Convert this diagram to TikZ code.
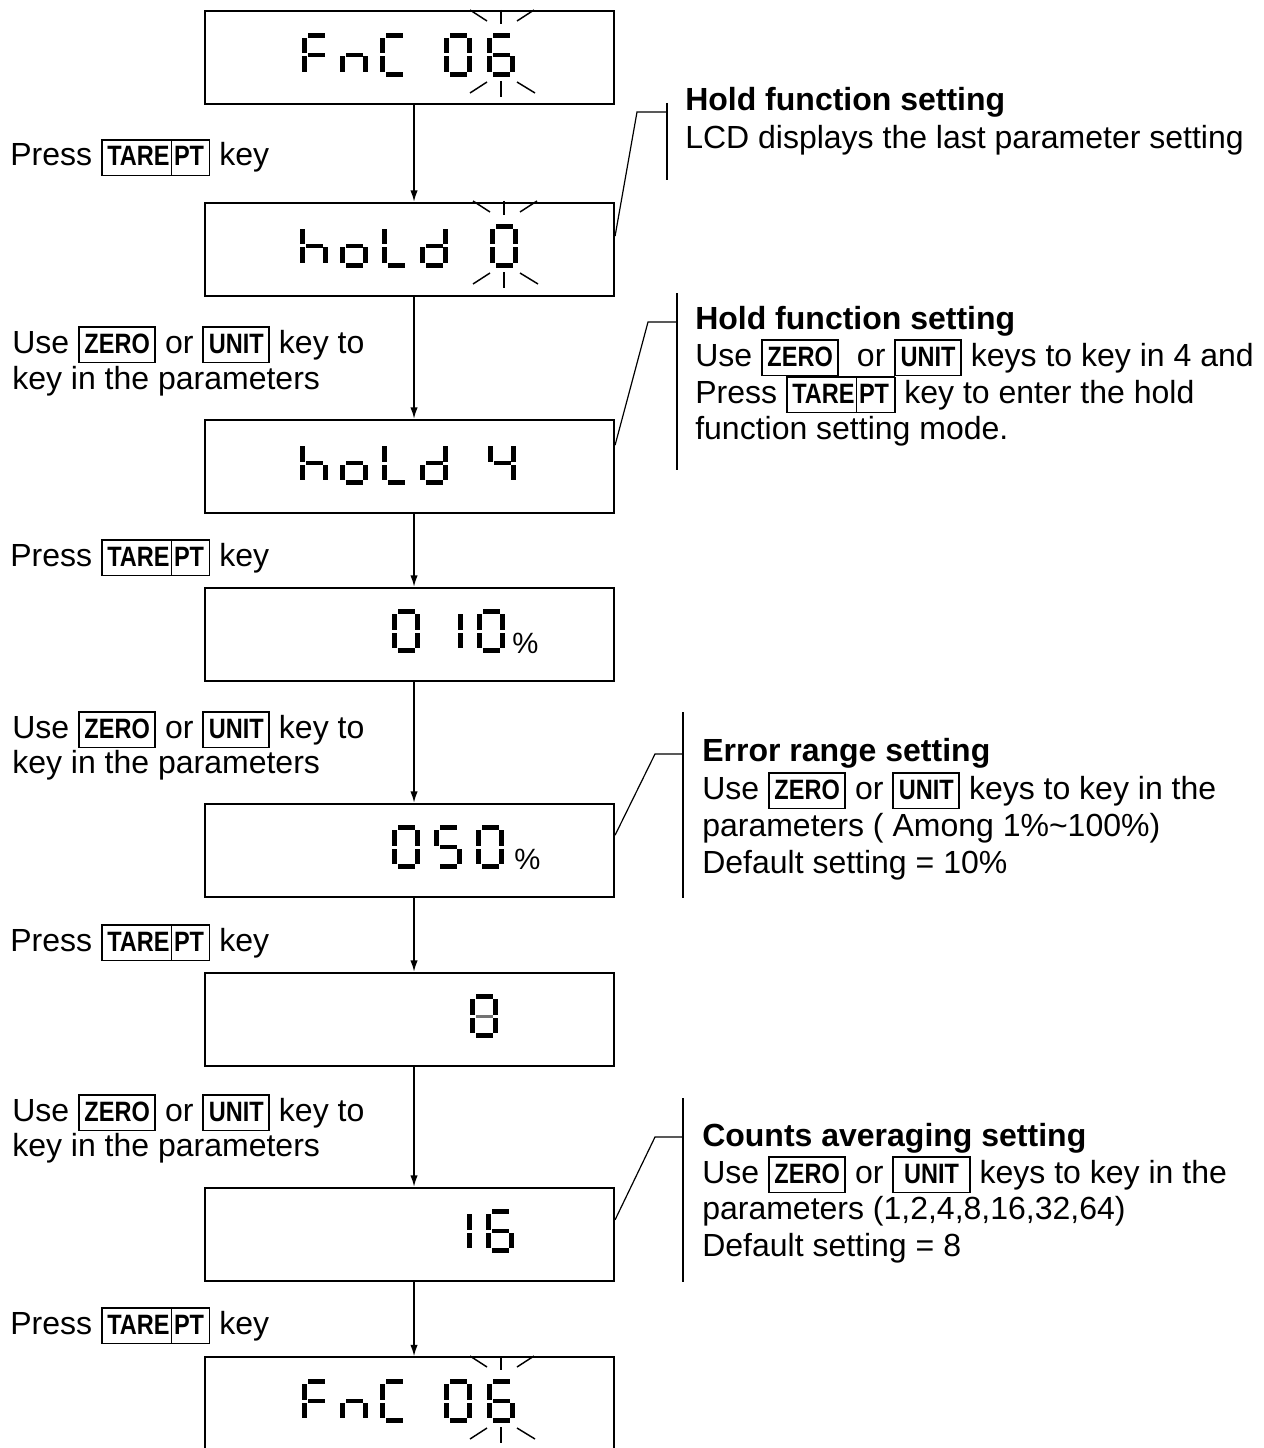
\documentclass[tikz,border=0pt]{standalone}
\usepackage{fontspec}
\setmainfont{Liberation Sans}
\newfontfamily\keyfont[FakeStretch=0.84]{Liberation Sans}
\usetikzlibrary{arrows.meta}

% framed key caption, e.g. \kbox{ZERO}
\newcommand\kbox[1]{{\setlength\fboxsep{0pt}\setlength\fboxrule{1.3pt}%
  \fbox{\kern3.5pt\vrule width 0pt height 19pt depth 6.5pt%
  {\keyfont\fontsize{21}{21}\selectfont\bfseries #1}\kern3.5pt}}}
% divider inside the TARE|PT key
\newcommand\kdiv{\kern1.2pt\vrule width 0.9pt height 19pt depth 6.5pt\kern1.2pt}

% seven-segment cells (28 x 44, y downwards)
\def\lcdsega{(5.5,0) rectangle (22.5,4.8)}
\def\lcdsegb{(23.2,5) rectangle (28,20.5)}
\def\lcdsegc{(23.2,23.5) rectangle (28,39)}
\def\lcdsegd{(5.5,39.2) rectangle (22.5,44)}
\def\lcdsege{(0,23.5) rectangle (4.8,39)}
\def\lcdsegf{(0,5) rectangle (4.8,20.5)}
\def\lcdsegg{(5.5,19.6) rectangle (22.5,24.4)}
\newcommand\lcd[3]{\begin{scope}[shift={(#1,#2)}]
  \foreach \s in {#3}{\edef\segpath{\noexpand\fill\csname lcdseg\s\endcsname;}\segpath}
  \end{scope}}
% flashing marks around a digit: centre x, digit top, digit bottom
\newcommand\blink[3]{%
  \draw[ray] (#1,#2-23) -- (#1,#2-9);
  \draw[ray] (#1-31,#2-23) -- (#1-14,#2-12);
  \draw[ray] (#1+16,#2-12) -- (#1+33,#2-23);
  \draw[ray] (#1,#3+4) -- (#1,#3+20);
  \draw[ray] (#1-14,#3+5) -- (#1-31,#3+16);
  \draw[ray] (#1+16,#3+5) -- (#1+34,#3+16);}

\tikzset{
  lcdbox/.style={draw, line width=1.6pt, minimum width=306.75pt, minimum height=70pt, inner sep=0pt},
  flow/.style={line width=1.1pt, -{Latex[length=8.5pt,width=5.5pt]}},
  lead/.style={line width=0.9pt},
  ray/.style={line width=1.1pt},
  txt/.style={anchor=base west, inner sep=0pt, font=\fontsize{24}{28}\selectfont},
  hd/.style={anchor=base west, inner sep=0pt, font=\fontsize{24}{28}\selectfont\bfseries},
  pct/.style={anchor=base west, inner sep=0pt, font=\fontsize{22}{22}\selectfont}
}

\begin{document}
\begin{tikzpicture}[x=0.75pt, y=-0.75pt]
\clip (0,0) rectangle (1263,1448);
\fill[white] (0,0) rectangle (1263,1448);

% display frames
\node[lcdbox] (d1) at (409.5,57.5) {};
\node[lcdbox] (d2) at (409.5,249.5) {};
\node[lcdbox] (d3) at (409.5,466.5) {};
\node[lcdbox] (d4) at (409.5,634.5) {};
\node[lcdbox] (d5) at (409.5,850.5) {};
\node[lcdbox] (d6) at (409.5,1019.5) {};
\node[lcdbox] (d7) at (409.5,1234.5) {};
\node[lcdbox] (d8) at (409.5,1404) {};

% display contents
% FnC 06
\lcd{302}{33}{a,f,g,e}
\lcd{340}{33}{e,g,c}
\lcd{380}{33}{a,f,e,d}
\lcd{444}{33}{a,b,c,d,e,f}
\lcd{487}{33}{a,f,g,e,d,c}
\blink{501}{33}{77}
% hold 0
\lcd{300}{224}{f,e,g,c}
\lcd{340}{224}{g,e,c,d}
\lcd{382}{224}{f,e,d}
\lcd{420}{224}{b,c,g,e,d}
\lcd{490}{224}{a,b,c,d,e,f}
\blink{504}{224}{268}
% hold 4
\lcd{300}{441}{f,e,g,c}
\lcd{340}{441}{g,e,c,d}
\lcd{382}{441}{f,e,d}
\lcd{420}{441}{b,c,g,e,d}
\lcd{488}{441}{f,g,b,c}
% 0 10 %
\lcd{392}{609}{a,b,c,d,e,f}
\lcd{435}{609}{b,c}
\lcd{477}{609}{a,b,c,d,e,f}
\node[pct] (p4) at (512,653) {\%};
% 050 %
\lcd{392}{825}{a,b,c,d,e,f}
\lcd{434}{825}{a,f,g,c,d}
\lcd{476}{825}{a,b,c,d,e,f}
\node[pct] (p5) at (514,869) {\%};
% 8
\lcd{470}{994}{a,b,c,d,e,f}
\fill[black!55] (475.5,1015) rectangle (492.5,1017.5);
% 16
\lcd{444}{1209}{b,c}
\lcd{486}{1209}{a,f,g,e,d,c}
% FnC 06
\lcd{302}{1379}{a,f,g,e}
\lcd{340}{1379}{e,g,c}
\lcd{380}{1379}{a,f,e,d}
\lcd{444}{1379}{a,b,c,d,e,f}
\lcd{487}{1379}{a,f,g,e,d,c}
\blink{501}{1379}{1423}

% flow between displays
\foreach \a/\b in {d1/d2,d2/d3,d3/d4,d4/d5,d5/d6,d6/d7,d7/d8}
  \draw[flow] ([xshift=3.4pt]\a.south) -- ([xshift=3.4pt]\b.north);

% left-hand instructions
\node[txt] (l1) at (10,166) {Press \kbox{TARE\kdiv PT} key};
\node[txt] (l2a) at (12,353) {Use \kbox{ZERO} or \kbox{UNIT} key to};
\node[txt] (l2b) at (12,389) {key in the parameters};
\node[txt] (l3) at (10,566) {Press \kbox{TARE\kdiv PT} key};
\node[txt] (l4a) at (12,738) {Use \kbox{ZERO} or \kbox{UNIT} key to};
\node[txt] (l4b) at (12,773) {key in the parameters};
\node[txt] (l5) at (10,951) {Press \kbox{TARE\kdiv PT} key};
\node[txt] (l6a) at (12,1121) {Use \kbox{ZERO} or \kbox{UNIT} key to};
\node[txt] (l6b) at (12,1156) {key in the parameters};
\node[txt] (l7) at (10,1334) {Press \kbox{TARE\kdiv PT} key};

% callout leaders
\coordinate (k1) at (637,112); \coordinate (b1t) at (667,103); \coordinate (b1b) at (667,180);
\draw[lead] ([yshift=10pt]d2.east) -- (k1) -- (k1 -| b1t);
\draw[lead] (b1t) -- (b1b);
\coordinate (k2) at (648,322); \coordinate (b2t) at (677,293); \coordinate (b2b) at (677,470);
\draw[lead] ([yshift=16pt]d3.east) -- (k2) -- (k2 -| b2t);
\draw[lead] (b2t) -- (b2b);
\coordinate (k3) at (655,754); \coordinate (b3t) at (683,712); \coordinate (b3b) at (683,898);
\draw[lead] ([yshift=11.5pt]d5.east) -- (k3) -- (k3 -| b3t);
\draw[lead] (b3t) -- (b3b);
\coordinate (k4) at (655,1137); \coordinate (b4t) at (683,1098); \coordinate (b4b) at (683,1282);
\draw[lead] ([yshift=11pt]d7.east) -- (k4) -- (k4 -| b4t);
\draw[lead] (b4t) -- (b4b);

% callout texts
\node[hd]  (c1a) at (685,111) {Hold function setting};
\node[txt] (c1b) at (685,149) {LCD displays the last parameter setting};

\node[hd]  (c2a) at (695,329) {Hold function setting};
\node[txt] (c2b) at (695,366) {Use \kbox{ZERO}\ \ or \kbox{UNIT} keys to key in 4 and};
\node[txt] (c2c) at (695,403) {Press \kbox{TARE\kdiv PT} key to enter the hold};
\node[txt] (c2d) at (695,439) {function setting mode.};

\node[hd]  (c3a) at (702,761) {Error range setting};
\node[txt] (c3b) at (702,799) {Use \kbox{ZERO} or \kbox{UNIT} keys to key in the};
\node[txt] (c3c) at (702,836) {parameters ( Among 1\%\textasciitilde100\%)};
\node[txt] (c3d) at (702,873) {Default setting = 10\%};

\node[hd]  (c4a) at (702,1146) {Counts averaging setting};
\node[txt] (c4b) at (702,1183) {Use \kbox{ZERO} or \kbox{\kern4pt UNIT\kern4pt} keys to key in the};
\node[txt] (c4c) at (702,1219) {parameters (1,2,4,8,16,32,64)};
\node[txt] (c4d) at (702,1256) {Default setting = 8};
\end{tikzpicture}
\end{document}
